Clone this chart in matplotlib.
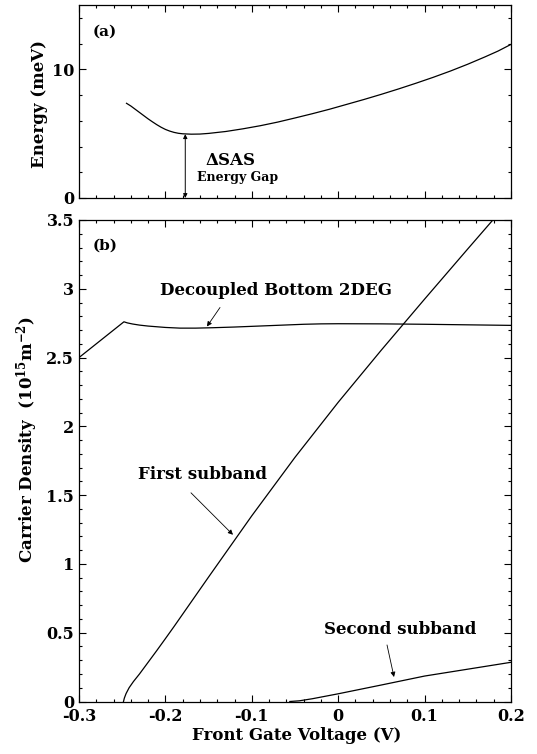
import matplotlib
matplotlib.use("Agg")
import matplotlib.pyplot as plt
from matplotlib.ticker import MultipleLocator, FixedLocator

# ---------------- data ----------------
# (a) symmetric-antisymmetric energy gap
v_gap = [-0.245, -0.24, -0.235, -0.23, -0.225, -0.22, -0.215, -0.21, -0.205, -0.2,
         -0.195, -0.19, -0.185, -0.18, -0.17, -0.16, -0.15, -0.13, -0.11, -0.09,
         -0.07, -0.05, -0.03, -0.01, 0.01, 0.03, 0.05, 0.07, 0.09, 0.11,
         0.13, 0.15, 0.17, 0.185, 0.2]
e_gap = [7.36, 7.15, 6.9, 6.65, 6.4, 6.15, 5.92, 5.7, 5.5, 5.33,
         5.2, 5.1, 5.03, 4.99, 4.96, 4.97, 5.02, 5.17, 5.38, 5.62,
         5.9, 6.22, 6.55, 6.9, 7.28, 7.66, 8.06, 8.48, 8.92, 9.38,
         9.87, 10.4, 10.97, 11.42, 11.94]

# (b) carrier densities
v_bottom = [-0.3, -0.248, -0.244, -0.238, -0.23, -0.22, -0.2, -0.183, -0.165, -0.145,
            -0.12, -0.08, -0.04, -0.02, 0.0, 0.05, 0.1, 0.15, 0.2]
n_bottom = [2.5, 2.76, 2.752, 2.744, 2.736, 2.729, 2.719, 2.714, 2.714, 2.717,
            2.722, 2.732, 2.742, 2.745, 2.746, 2.745, 2.742, 2.738, 2.734]

v_first = [-0.2485, -0.2475, -0.2455, -0.242, -0.237, -0.23, -0.22, -0.21, -0.2,
           -0.19, -0.175, -0.15, -0.1, -0.05, 0.0, 0.05, 0.1, 0.15, 0.179]
n_first = [0.0, 0.025, 0.058, 0.1, 0.145, 0.2, 0.285, 0.37, 0.457,
           0.545, 0.68, 0.905, 1.35, 1.775, 2.175, 2.555, 2.925, 3.29, 3.5]

v_second = [-0.056, -0.045, -0.03, -0.015, 0.0, 0.05, 0.1, 0.15, 0.2]
n_second = [0.0, 0.005, 0.02, 0.038, 0.056, 0.12, 0.185, 0.235, 0.285]

x_ticks = [-0.3, -0.2, -0.1, 0.0, 0.1, 0.2]
x_ticklabels = ["-0.3", "-0.2", "-0.1", "0", "0.1", "0.2"]
e_ticks = [0, 10]
n_ticks = [0, 0.5, 1, 1.5, 2, 2.5, 3, 3.5]
n_ticklabels = ["0", "0.5", "1", "1.5", "2", "2.5", "3", "3.5"]

# ---------------- style ----------------
plt.rcParams["font.family"] = ["DejaVu Serif"]
plt.rcParams["font.weight"] = "bold"
plt.rcParams["mathtext.fontset"] = "dejavuserif"
FS_TICK = 11.5
FS_LAB = 12

fig = plt.figure(figsize=(5.37, 7.54), dpi=100)
W, H = 537.0, 754.0
axL, axR = 79, 511
ax1 = fig.add_axes([axL / W, 1 - 198 / H, (axR - axL) / W, 193 / H])
ax2 = fig.add_axes([axL / W, 1 - 701.5 / H, (axR - axL) / W, 481.5 / H])

lw = 0.9
for ax in (ax1, ax2):
    ax.set_xlim(-0.3, 0.2)
    ax.xaxis.set_major_locator(FixedLocator(x_ticks))
    ax.xaxis.set_minor_locator(MultipleLocator(0.02))
    ax.tick_params(which="both", direction="in", top=True, right=True, width=0.8)
    ax.tick_params(which="major", length=5)
    ax.tick_params(which="minor", length=2.5)
    for s in ax.spines.values():
        s.set_linewidth(0.9)

# panel (a)
ax1.plot(v_gap, e_gap, color="black", lw=lw)
ax1.set_ylim(0, 15)
ax1.yaxis.set_major_locator(FixedLocator(e_ticks))
ax1.yaxis.set_minor_locator(MultipleLocator(2))
ax1.set_yticklabels([str(t) for t in e_ticks], fontsize=FS_TICK, fontweight="bold")
ax1.set_xticklabels([])
ax1.text(-0.284, 12.9, "(a)", fontsize=11, fontweight="bold", ha="left", va="center")
ax1.annotate("", xy=(-0.177, 0.0), xytext=(-0.177, min(e_gap)),
             arrowprops=dict(arrowstyle="<|-|>", color="black", lw=0.7,
                             mutation_scale=6, shrinkA=0, shrinkB=0))
ax1.text(-0.1253, 2.95, r"$\mathbf{\Delta}$SAS", fontsize=12, fontweight="bold",
         ha="center", va="center")
ax1.text(-0.117, 1.63, "Energy Gap", fontsize=9, fontweight="bold",
         ha="center", va="center")

# panel (b)
ax2.plot(v_bottom, n_bottom, color="black", lw=lw)
ax2.plot(v_first, n_first, color="black", lw=lw)
ax2.plot(v_second, n_second, color="black", lw=lw)
ax2.set_ylim(0, 3.5)
ax2.yaxis.set_major_locator(FixedLocator(n_ticks))
ax2.yaxis.set_minor_locator(MultipleLocator(0.1))
ax2.set_yticklabels(n_ticklabels, fontsize=FS_TICK, fontweight="bold")
ax2.set_xticklabels(x_ticklabels, fontsize=FS_TICK, fontweight="bold")
ax2.tick_params(axis="x", which="major", pad=5)

ax2.text(-0.284, 3.31, "(b)", fontsize=11, fontweight="bold", ha="left", va="center")

arrow_kw = dict(arrowstyle="-|>", color="black", lw=0.6, mutation_scale=7,
                shrinkA=0, shrinkB=0)
ax2.text(-0.072, 2.99, "Decoupled Bottom 2DEG", fontsize=FS_LAB, fontweight="bold",
         ha="center", va="center")
ax2.annotate("", xy=(-0.1519, 2.726), xytext=(-0.1368, 2.864), arrowprops=arrow_kw)
ax2.text(-0.1576, 1.65, "First subband", fontsize=FS_LAB, fontweight="bold",
         ha="center", va="center")
ax2.annotate("", xy=(-0.1218, 1.212), xytext=(-0.1704, 1.517), arrowprops=arrow_kw)
ax2.text(0.0715, 0.52, "Second subband", fontsize=FS_LAB, fontweight="bold",
         ha="center", va="center")
ax2.annotate("", xy=(0.0646, 0.178), xytext=(0.0565, 0.411), arrowprops=arrow_kw)

# axis labels
fig.text(39 / W, 1 - 104 / H, "Energy (meV)", rotation=90, fontsize=FS_LAB,
         fontweight="bold", ha="center", va="center")
fig.text(27 / W, 1 - 440 / H,
         r"Carrier Density  (10$^{\mathbf{15}}$m$^{\mathbf{-2}}$)", rotation=90,
         fontsize=FS_LAB, fontweight="bold", ha="center", va="center")
fig.text(297 / W, 1 - 736 / H, "Front Gate Voltage (V)", fontsize=FS_LAB,
         fontweight="bold", ha="center", va="center")

fig.savefig("out.png", dpi=100)
